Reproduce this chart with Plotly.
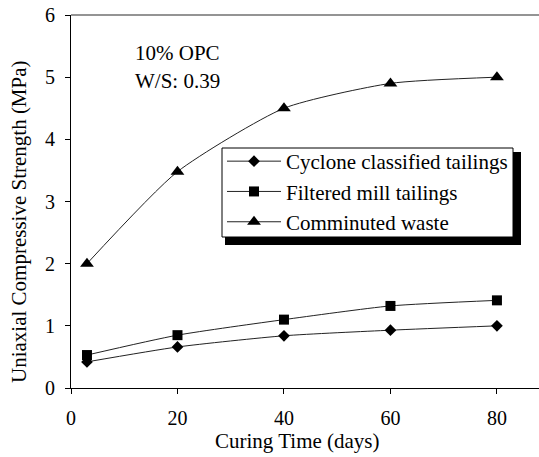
import plotly.graph_objects as go

days = [3, 20, 40, 60, 80]
cyclone = [0.42, 0.66, 0.84, 0.93, 1.00]
filtered = [0.53, 0.85, 1.10, 1.32, 1.41]
comminuted = [2.00, 3.48, 4.50, 4.90, 5.00]

series_names = ["Cyclone classified tailings", "Filtered mill tailings", "Comminuted waste"]
x_ticks = [0, 20, 40, 60, 80]
y_ticks = [0, 1, 2, 3, 4, 5, 6]

W, H = 539, 457
L, R, T, B = 71, 0, 15, 69
PW, PH = W - L - R, H - T - B

def px(x):
    return (x - L) / PW

def py(y):
    return (H - B - y) / PH

FONT = "Liberation Serif"

fig = go.Figure()
symbols = ["diamond", "square", "triangle-up"]
sizes = [9, 10, 12]
for name, ys, sym, sz in zip(series_names, [cyclone, filtered, comminuted], symbols, sizes):
    fig.add_trace(go.Scatter(
        x=days, y=ys, name=name, mode="lines+markers",
        line=dict(color="#222222", width=1, shape="spline", smoothing=0.6),
        marker=dict(symbol=sym, size=sz, color="black"),
    ))

fig.update_layout(
    width=W, height=H,
    margin=dict(l=L, r=R, t=T, b=B),
    paper_bgcolor="white", plot_bgcolor="white",
    font=dict(family=FONT, size=20, color="black"),
    showlegend=True,
    legend=dict(
        x=px(222), y=py(141), xanchor="left", yanchor="top",
        bgcolor="rgba(0,0,0,0)", borderwidth=0,
        font=dict(family=FONT, size=21, color="black"),
        itemwidth=54, tracegroupgap=0,
    ),
    xaxis=dict(
        range=[0, 87.9], tickvals=x_ticks, ticks="outside", ticklen=5,
        tickcolor="black", showline=True, linecolor="black", linewidth=1,
        showgrid=False, zeroline=False, tickfont=dict(family=FONT, size=20),
        ticklabelstandoff=7,
    ),
    yaxis=dict(
        range=[0, 6], tickvals=y_ticks, ticks="outside", ticklen=5,
        tickcolor="black", showline=True, linecolor="black", linewidth=1,
        showgrid=False, zeroline=False, tickfont=dict(family=FONT, size=20),
        ticklabelstandoff=6,
    ),
    shapes=[
        dict(type="line", xref="paper", yref="paper", x0=0, x1=1, y0=1, y1=1,
             line=dict(color="#707070", width=1.5)),
        dict(type="rect", xref="paper", yref="paper",
             x0=px(225), x1=px(521), y0=py(152), y1=py(245),
             fillcolor="black", line=dict(width=0), layer="above"),
        dict(type="rect", xref="paper", yref="paper",
             x0=px(222), x1=px(513), y0=py(148), y1=py(237),
             fillcolor="white", line=dict(color="black", width=1), layer="above"),
    ],
    annotations=[
        dict(text="10% OPC", xref="paper", yref="paper", x=px(133), y=py(53),
             xanchor="left", yanchor="middle", showarrow=False, font=dict(family=FONT, size=21)),
        dict(text="W/S: 0.39", xref="paper", yref="paper", x=px(133), y=py(81),
             xanchor="left", yanchor="middle", showarrow=False, font=dict(family=FONT, size=21)),
        dict(text="Curing Time (days)", xref="paper", yref="paper", x=px(297), y=py(441),
             xanchor="center", yanchor="middle", showarrow=False, font=dict(family=FONT, size=21)),
        dict(text="Uniaxial Compressive Strength (MPa)", xref="paper", yref="paper",
             x=px(19), y=py(222), textangle=-90,
             xanchor="center", yanchor="middle", showarrow=False, font=dict(family=FONT, size=21)),
    ],
)

fig.write_html("out.html", config={"displayModeBar": False},
               post_script="document.body.style.margin='0';")
